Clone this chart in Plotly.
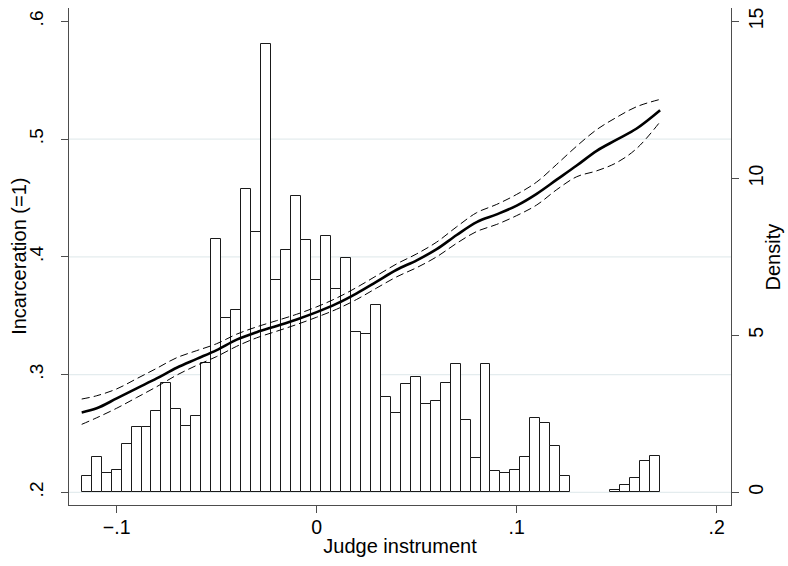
import plotly.graph_objects as go

# ---- data ----
bin_start = -0.1175
bin_width = 0.004985
density = [0.52, 1.11, 0.63, 0.72, 1.54, 2.09, 2.09, 2.60, 3.48, 2.66,
           2.12, 2.44, 4.12, 8.07, 5.56, 5.82, 9.65, 8.30, 14.29, 6.77,
           7.71, 9.43, 8.03, 6.77, 8.15, 6.49, 7.47, 5.12, 5.05, 5.97,
           3.04, 2.53, 3.44, 3.67, 2.80, 2.91, 3.48, 4.10, 2.31, 1.08,
           4.10, 0.68, 0.62, 0.72, 1.14, 2.37, 2.21, 1.49, 0.51, 0,
           0, 0, 0, 0.08, 0.22, 0.46, 1.01, 1.17]

fit_x = [-0.1175, -0.11, -0.10, -0.09, -0.08, -0.07, -0.06, -0.05, -0.04, -0.03,
         -0.02, -0.01, 0.00, 0.01, 0.02, 0.03, 0.04, 0.05, 0.06, 0.07,
         0.08, 0.09, 0.10, 0.11, 0.12, 0.13, 0.14, 0.15, 0.16, 0.1717]
fit_y = [0.2678, 0.2713, 0.2797, 0.2883, 0.2967, 0.3058, 0.3133, 0.3208, 0.3297, 0.3360,
         0.3413, 0.3468, 0.3530, 0.3602, 0.3690, 0.3790, 0.3890, 0.3970, 0.4065, 0.4185,
         0.4295, 0.4360, 0.4435, 0.4535, 0.4655, 0.4775, 0.4900, 0.4995, 0.5090, 0.5245]
upper_y = [0.2792, 0.2820, 0.2878, 0.2965, 0.3053, 0.3143, 0.3203, 0.3262, 0.3343, 0.3405,
           0.3458, 0.3512, 0.3575, 0.3650, 0.3740, 0.3840, 0.3940, 0.4025, 0.4125, 0.4255,
           0.4375, 0.4445, 0.4530, 0.4635, 0.4785, 0.4940, 0.5080, 0.5185, 0.5275, 0.5337]
lower_y = [0.2577, 0.2633, 0.2714, 0.2805, 0.2897, 0.2995, 0.3078, 0.3153, 0.3240, 0.3312,
           0.3368, 0.3425, 0.3487, 0.3555, 0.3638, 0.3735, 0.3830, 0.3908, 0.4000, 0.4115,
           0.4215, 0.4275, 0.4350, 0.4440, 0.4570, 0.4680, 0.4730, 0.4800, 0.4920, 0.5147]

x_ticks = [-0.1, 0, 0.1, 0.2]
x_ticktext = ["\u2212.1", "0", ".1", ".2"]
left_ticks = [0.2, 0.3, 0.4, 0.5, 0.6]
left_ticktext = [".2", ".3", ".4", ".5", ".6"]
right_ticks = [0, 5, 10, 15]
right_ticktext = ["0", "5", "10", "15"]
grid_vals = [0.2, 0.3, 0.4, 0.5]

# ---- figure ----
FONT = "Liberation Sans, Arial, sans-serif"
centers = [bin_start + (i + 0.5) * bin_width for i in range(len(density))]
bx = [c for c, d in zip(centers, density) if d > 0]
by = [d for d in density if d > 0]

fig = go.Figure()
fig.add_trace(go.Bar(x=bx, y=by, width=bin_width, yaxis="y",
                     marker=dict(color="white", line=dict(color="#1a1a1a", width=1)),
                     showlegend=False))
fig.add_trace(go.Scatter(x=fit_x, y=upper_y, yaxis="y2", mode="lines",
                         line=dict(color="black", width=1, dash="8px,4px", shape="spline"),
                         showlegend=False))
fig.add_trace(go.Scatter(x=fit_x, y=lower_y, yaxis="y2", mode="lines",
                         line=dict(color="black", width=1, dash="8px,4px", shape="spline"),
                         showlegend=False))
fig.add_trace(go.Scatter(x=fit_x, y=fit_y, yaxis="y2", mode="lines",
                         line=dict(color="black", width=2.6, shape="spline"),
                         showlegend=False))

lo, hi = 0.18921, 0.61130
scale = 37.5
axis_col = "#4d4d4d"
shapes = [dict(type="line", xref="paper", x0=0, x1=1, yref="y2", y0=v, y1=v,
               line=dict(color="#e4ecee", width=1.2), layer="below") for v in grid_vals]

title_font = dict(size=20, family=FONT, color="black")
annotations = [
    dict(text="Incarceration (=1)", xref="paper", yref="paper", x=-0.0765, y=0.5,
         xanchor="center", yanchor="middle", textangle=-90, showarrow=False, font=title_font),
    dict(text="Density", xref="paper", yref="paper", x=1.0634, y=0.5,
         xanchor="center", yanchor="middle", textangle=-90, showarrow=False, font=title_font),
]

fig.update_layout(
    width=788, height=566,
    margin=dict(l=69, r=57, t=8, b=61),
    paper_bgcolor="white", plot_bgcolor="white",
    font=dict(family=FONT, color="black"),
    bargap=0,
    shapes=shapes,
    annotations=annotations,
    xaxis=dict(range=[-0.12385, 0.20715], tickvals=x_ticks, ticktext=x_ticktext,
               automargin=False, ticklabelstandoff=-3,
               ticks="outside", ticklen=7, tickcolor=axis_col, showline=True,
               linecolor=axis_col, linewidth=1.2, showgrid=False, zeroline=False,
               tickfont=dict(size=19.5, family=FONT, color="black"),
               title=dict(text="Judge instrument", font=title_font, standoff=2)),
    yaxis=dict(side="right", range=[(lo - 0.2) * scale, (hi - 0.2) * scale],
               automargin=False, ticklabelstandoff=0,
               tickvals=right_ticks, ticktext=right_ticktext, tickangle=-90,
               ticks="outside", ticklen=7, tickcolor=axis_col, showline=True,
               linecolor=axis_col, linewidth=1.2, showgrid=False, zeroline=False,
               tickfont=dict(size=19.5, family=FONT, color="black")),
    yaxis2=dict(side="left", overlaying="y", range=[lo, hi],
                automargin=False, ticklabelstandoff=10,
                tickvals=left_ticks, ticktext=left_ticktext, tickangle=-90,
                ticks="outside", ticklen=7, tickcolor=axis_col, showline=True,
                linecolor=axis_col, linewidth=1.2, showgrid=False, zeroline=False,
                tickfont=dict(size=19, family=FONT, color="black")),
)

fig.write_html("out.html")
